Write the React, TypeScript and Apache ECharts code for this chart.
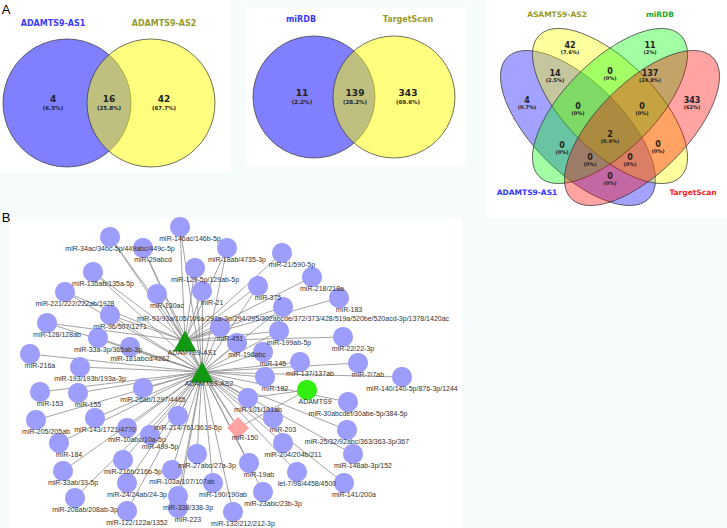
import React, { useEffect, useRef } from 'react';
import * as echarts from 'echarts';

// ---------- Panel A data ----------
const venn1Sets = ['ADAMTS9-AS1', 'ADAMTS9-AS2'];
const venn1Counts = [4, 16, 42];
const venn1Pcts = ['6.5%', '25.8%', '67.7%'];

const venn2Sets = ['miRDB', 'TargetScan'];
const venn2Counts = [11, 139, 343];
const venn2Pcts = ['2.2%', '28.2%', '69.6%'];

const venn4Sets = ['ADAMTS9-AS1', 'ASAMTS9-AS2', 'miRDB', 'TargetScan'];
const venn4Counts = [42, 11, 14, 0, 137, 4, 0, 0, 343, 0, 2, 0, 0, 0, 0];
const venn4Pcts = ['7.6%', '2%', '2.5%', '0%', '24.8%', '0.7%', '0%', '0%', '62%', '0%', '0.4%', '0%', '0%', '0%', '0%'];

// ---------- Panel B data ----------
const lncRNAs = ['ADAMTS9-AS1', 'ADAMTS9-AS2'];
const mRNAs = ['ADAMTS9'];
const miRNAs = [
  'miR-146ac/146b-5p', 'miR-34ac/34bc-5p/449abc/449c-5p', 'miR-29abcd', 'miR-18ab/4735-3p',
  'miR-21/590-5p', 'miR-135ab/135a-5p', 'miR-129-5p/129ab-5p', 'miR-218/218a', 'miR-375',
  'miR-221/222/222ab/1928', 'miR-130ac', 'miR-21', 'miR-183',
  'miR-93/93a/105/106a/291a-3p/294/295/302abcde/372/373/428/519a/520be/520acd-3p/1378/1420ac',
  'miR-96/507/1271', 'miR-128/128ab', 'miR-451', 'miR-199ab-5p', 'miR-22/22-3p',
  'miR-33a-3p/365ab-3p', 'miR-181abcd/4262', 'miR-196abc', 'miR-145', 'miR-216a',
  'miR-137/137ab', 'miR-7/7ab', 'miR-193/193b/193a-3p', 'miR-182', 'miR-140/140-5p/876-3p/1244',
  'miR-26ab/1297/4465', 'miR-153', 'miR-155', 'miR-101/101ab', 'miR-30abcdef/30abe-5p/384-5p',
  'miR-214/761/3619-5p', 'miR-143/1721/4770', 'miR-205/205ab', 'miR-203', 'miR-10abc/10a-5p',
  'miR-25/32/92abc/363/363-3p/367', 'miR-499-5p', 'miR-184', 'miR-204/204b/211',
  'miR-27abc/27a-3p', 'miR-148ab-3p/152', 'miR-216b/216b-5p', 'miR-19ab', 'miR-103a/107/107ab',
  'miR-33ab/33-5p', 'let-7/98/4458/4500', 'miR-24/24ab/24-3p', 'miR-190/190ab', 'miR-141/200a',
  'miR-23abc/23b-3p', 'miR-338/338-3p', 'miR-208ab/208ab-3p', 'miR-223', 'miR-122/122a/1352',
  'miR-132/212/212-3p', 'miR-150',
];
const as1Only = ['miR-21/590-5p', 'miR-218/218a', 'miR-183', 'miR-22/22-3p'];
const as1Shared = [
  'miR-146ac/146b-5p', 'miR-34ac/34bc-5p/449abc/449c-5p', 'miR-29abcd', 'miR-18ab/4735-3p',
  'miR-135ab/135a-5p', 'miR-129-5p/129ab-5p', 'miR-375', 'miR-221/222/222ab/1928', 'miR-130ac',
  'miR-21', 'miR-93/93a/105/106a/291a-3p/294/295/302abcde/372/373/428/519a/520be/520acd-3p/1378/1420ac',
  'miR-96/507/1271', 'miR-128/128ab', 'miR-451', 'miR-199ab-5p', 'miR-150',
];
const adamts9Targets = ['miR-150', 'miR-101/101ab'];

// node layout (network drawing coordinates)
const nodeLayout: Record<string, [number, number]> = {
  'ADAMTS9-AS1': [185, 341], 'ADAMTS9-AS2': [202, 372], 'ADAMTS9': [307, 390],
  'miR-146ac/146b-5p': [180, 227], 'miR-34ac/34bc-5p/449abc/449c-5p': [110, 237], 'miR-29abcd': [143, 248],
  'miR-18ab/4735-3p': [227, 248], 'miR-21/590-5p': [282, 253], 'miR-135ab/135a-5p': [93, 272],
  'miR-129-5p/129ab-5p': [195, 268], 'miR-218/218a': [312, 277], 'miR-375': [258, 286],
  'miR-221/222/222ab/1928': [65, 292], 'miR-130ac': [157, 294], 'miR-21': [202, 291], 'miR-183': [339, 298],
  'miR-93/93a/105/106a/291a-3p/294/295/302abcde/372/373/428/519a/520be/520acd-3p/1378/1420ac': [283, 307],
  'miR-96/507/1271': [110, 315], 'miR-128/128ab': [47, 323], 'miR-451': [220, 327], 'miR-199ab-5p': [279, 331],
  'miR-22/22-3p': [343, 337], 'miR-33a-3p/365ab-3p': [98, 338], 'miR-181abcd/4262': [130, 347],
  'miR-196abc': [237, 343], 'miR-145': [263, 352], 'miR-216a': [30, 354], 'miR-137/137ab': [300, 362],
  'miR-7/7ab': [358, 363], 'miR-193/193b/193a-3p': [80, 367], 'miR-182': [265, 377],
  'miR-140/140-5p/876-3p/1244': [402, 377], 'miR-26ab/1297/4465': [143, 388], 'miR-153': [40, 392],
  'miR-155': [78, 393], 'miR-101/101ab': [248, 398], 'miR-30abcdef/30abe-5p/384-5p': [348, 402],
  'miR-214/761/3619-5p': [178, 416], 'miR-143/1721/4770': [95, 418], 'miR-205/205ab': [36, 420],
  'miR-203': [273, 418], 'miR-10abc/10a-5p': [127, 428], 'miR-25/32/92abc/363/363-3p/367': [347, 430],
  'miR-499-5p': [150, 435], 'miR-184': [59, 443], 'miR-204/204b/211': [283, 443], 'miR-27abc/27a-3p': [197, 454],
  'miR-148ab-3p/152': [353, 454], 'miR-216b/216b-5p': [123, 460], 'miR-19ab': [249, 463],
  'miR-103a/107/107ab': [172, 470], 'miR-33ab/33-5p': [63, 471], 'let-7/98/4458/4500': [297, 472],
  'miR-24/24ab/24-3p': [127, 483], 'miR-190/190ab': [213, 483], 'miR-141/200a': [344, 483],
  'miR-23abc/23b-3p': [263, 492], 'miR-338/338-3p': [178, 496], 'miR-208ab/208ab-3p': [75, 498],
  'miR-223': [178, 508], 'miR-122/122a/1352': [127, 511], 'miR-132/212/212-3p': [233, 512],
  'miR-150': [238, 428],
};

const FONT = 'DejaVu Sans';
const LFONT = 'Liberation Sans';

function txt(text: string, x: number, y: number, size: number, color: string, bold = true, font = FONT) {
  return {
    type: 'text', x, y, z: 5, silent: true,
    style: { text, fill: color, font: `${bold ? 'bold ' : ''}${size}px "${font}"`, align: 'center', verticalAlign: 'middle' },
  };
}

function buildGraphics() {
  const g: any[] = [];
  const white = { fill: '#ffffff' };
  g.push({ type: 'rect', z: 0, silent: true, shape: { x: 0, y: 0, width: 230, height: 172 }, style: white });
  g.push({ type: 'rect', z: 0, silent: true, shape: { x: 246, y: 7, width: 220, height: 158 }, style: white });
  g.push({ type: 'rect', z: 0, silent: true, shape: { x: 485, y: 0, width: 242, height: 218 }, style: white });
  g.push({ type: 'rect', z: 0, silent: true, shape: { x: 10, y: 218, width: 452, height: 310 }, style: white });

  g.push(txt('A', 6, 9, 13, '#000', false, LFONT));
  g.push(txt('B', 6, 217, 13, '#000', false, LFONT));

  const stroke = '#333';
  // Venn 1
  const v1c = [[67, 103], [151, 103]];
  const v1fill = ['rgba(0,0,255,0.5)', 'rgba(255,255,0,0.5)'];
  v1c.forEach((c, i) => g.push({ type: 'circle', z: 1, silent: true, shape: { cx: c[0], cy: c[1], r: 64 }, style: { fill: v1fill[i], stroke, lineWidth: 0.7 } }));
  g.push(txt(venn1Sets[0], 53, 23, 8, '#3b3bff'));
  g.push(txt(venn1Sets[1], 164, 23, 8, '#9a9a2a'));
  const v1x = [53, 109, 164];
  venn1Counts.forEach((c, i) => {
    g.push(txt(String(c), v1x[i], 99, 9, '#222'));
    g.push(txt(`(${venn1Pcts[i]})`, v1x[i], 107.5, 5.5, '#222'));
  });

  // Venn 2
  const v2c = [[314, 97], [394, 97]];
  v2c.forEach((c, i) => g.push({ type: 'circle', z: 1, silent: true, shape: { cx: c[0], cy: c[1], r: 61 }, style: { fill: v1fill[i], stroke, lineWidth: 0.7 } }));
  g.push(txt(venn2Sets[0], 301, 19, 8, '#3b3bff'));
  g.push(txt(venn2Sets[1], 408, 19, 8, '#9a9a2a'));
  const v2x = [302, 355, 408];
  venn2Counts.forEach((c, i) => {
    g.push(txt(String(c), v2x[i], 93, 9, '#222'));
    g.push(txt(`(${venn2Pcts[i]})`, v2x[i], 101.5, 5.5, '#222'));
  });

  // Venn 4 (ellipses)
  const e4 = [
    { c: [578, 128], rot: -Math.PI / 4, fill: 'rgba(0,0,255,0.36)' },
    { c: [610, 106], rot: -Math.PI / 4, fill: 'rgba(255,255,0,0.38)' },
    { c: [610, 106], rot: Math.PI / 4, fill: 'rgba(0,255,0,0.36)' },
    { c: [642, 128], rot: Math.PI / 4, fill: 'rgba(255,0,0,0.36)' },
  ];
  e4.forEach((e) => g.push({ type: 'ellipse', z: 1, silent: true, x: e.c[0], y: e.c[1], rotation: e.rot, shape: { cx: 0, cy: 0, rx: 100, ry: 45 }, style: { fill: e.fill, stroke, lineWidth: 0.7 } }));
  g.push(txt(venn4Sets[0], 527, 192, 7.5, '#3333ff'));
  g.push(txt(venn4Sets[1], 557, 14, 7.5, '#9a9a22'));
  g.push(txt(venn4Sets[2], 660, 14, 7.5, '#22aa22'));
  g.push(txt(venn4Sets[3], 693, 192, 7.5, '#ff2222'));
  const v4pos = [
    [570, 45], [650, 45], [555, 73], [610, 71], [650, 73],
    [527, 100], [578, 106], [642, 106], [692, 100],
    [562, 145], [610, 134], [658, 144], [590, 157], [630, 157], [610, 176],
  ];
  venn4Counts.forEach((c, i) => {
    g.push(txt(String(c), v4pos[i][0], v4pos[i][1], 8, '#222'));
    g.push(txt(`(${venn4Pcts[i]})`, v4pos[i][0], v4pos[i][1] + 7, 5, '#222'));
  });
  return g;
}

function buildGraph() {
  const nodes: any[] = [];
  lncRNAs.forEach((n) => nodes.push({
    name: n, value: nodeLayout[n], symbol: 'triangle', symbolSize: [23, 21],
    itemStyle: { color: '#129912' }, label: { offset: [7, 11] },
  }));
  mRNAs.forEach((n) => nodes.push({
    name: n, value: nodeLayout[n], symbol: 'circle', symbolSize: 20,
    itemStyle: { color: '#33ee11' }, label: { offset: [8, 11] },
  }));
  miRNAs.forEach((n) => nodes.push({
    name: n, value: nodeLayout[n],
    symbol: n === 'miR-150' ? 'diamond' : 'circle',
    symbolSize: n === 'miR-150' ? 22 : 20,
    itemStyle: { color: n === 'miR-150' ? '#ffa3a3' : '#9d9dfc' },
    label: { offset: n === 'miR-150' ? [7, 9] : [10, 11] },
  }));
  const links: any[] = [];
  as1Only.concat(as1Shared).forEach((m) => links.push({ source: 'ADAMTS9-AS1', target: m }));
  miRNAs.filter((m) => !as1Only.includes(m)).forEach((m) => links.push({ source: 'ADAMTS9-AS2', target: m }));
  adamts9Targets.forEach((m) => links.push({ source: 'ADAMTS9', target: m }));
  return { nodes, links };
}

export default function App() {
  const ref = useRef<HTMLDivElement>(null);
  useEffect(() => {
    document.body.style.margin = '0';
    if (!ref.current) return;
    const chart = echarts.init(ref.current, undefined, { renderer: 'svg' });
    const { nodes, links } = buildGraph();
    chart.setOption({
      animation: false,
      backgroundColor: '#f6fbfc',
      grid: { left: 0, right: 0, top: 0, bottom: 0 },
      xAxis: { type: 'value', min: 0, max: 727, show: false },
      yAxis: { type: 'value', min: 0, max: 528, inverse: true, show: false },
      graphic: { elements: buildGraphics() },
      series: [{
        type: 'graph',
        coordinateSystem: 'cartesian2d',
        layout: 'none',
        z: 3,
        data: nodes,
        links,
        silent: true,
        lineStyle: { color: '#8c8c8c', width: 0.8, opacity: 1 },
        label: {
          show: true, position: 'inside', offset: [10, 11], fontSize: 7, color: '#333',
          fontFamily: LFONT, textBorderWidth: 0, textBorderColor: 'transparent',
        },
        emphasis: { disabled: true },
      }],
    });
    return () => chart.dispose();
  }, []);
  return <div ref={ref} style={{ width: 727, height: 528 }} />;
}
